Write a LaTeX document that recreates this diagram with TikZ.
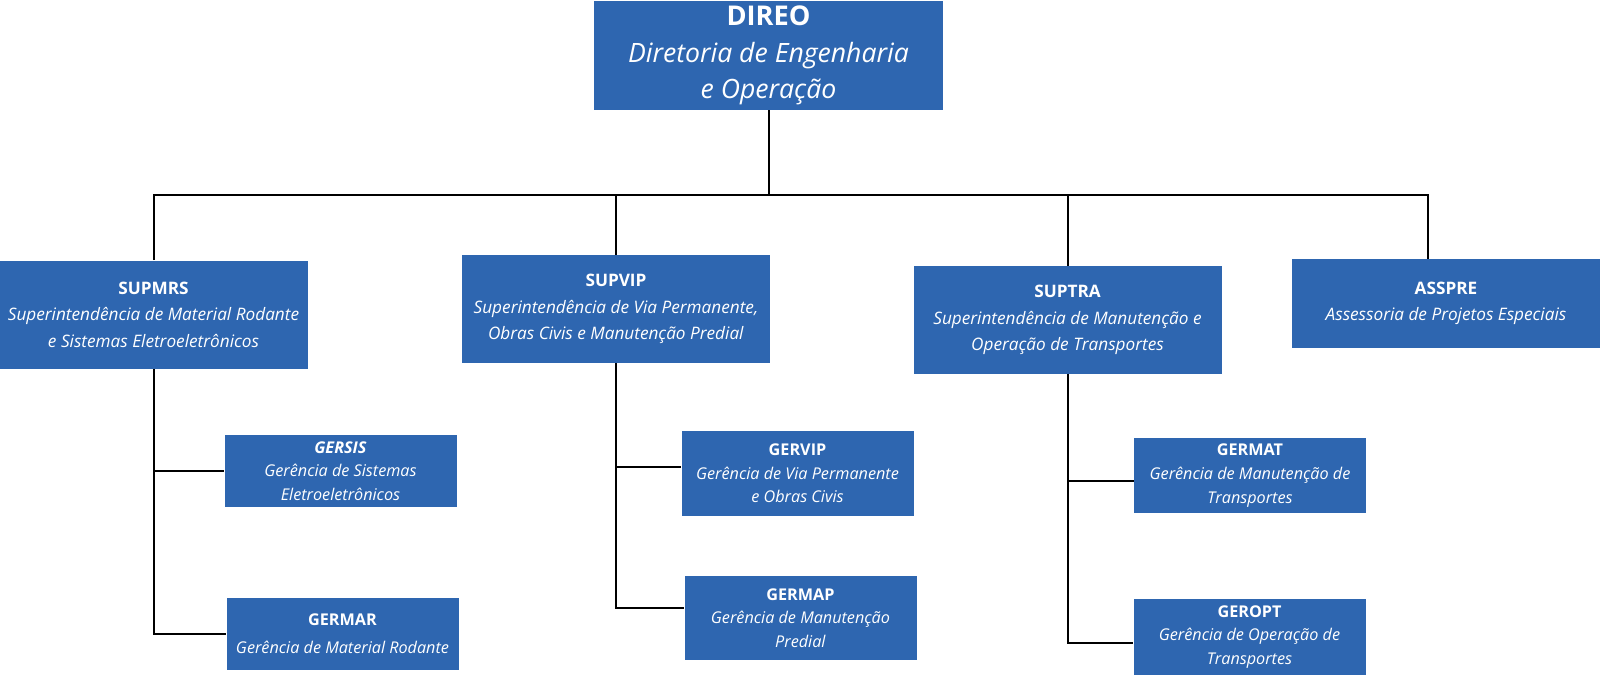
\documentclass[tikz,border=0pt]{standalone}
\usepackage{fontspec}
\setmainfont{Open Sans}
\usepackage{tikz}
\usetikzlibrary{positioning,calc}
\definecolor{orgblue}{RGB}{46,102,176}
\tikzset{
    dirbox/.style={rectangle, fill=orgblue, text=white, align=center, inner sep=0pt, minimum width=174.5pt, minimum height=54.5pt, font=\fontsize{13.3}{18.3}\selectfont},
    supbox/.style={rectangle, fill=orgblue, text=white, align=center, inner sep=0pt, minimum width=154pt, minimum height=54pt, font=\fontsize{8.6}{13.3}\selectfont},
    gerbox/.style={rectangle, fill=orgblue, text=white, align=center, inner sep=0pt, minimum width=116pt, font=\fontsize{8.1}{11.8}\selectfont},
    line/.style={draw, line width=1pt}
}

\begin{document}
\begin{tikzpicture}[x=0.5pt, y=-0.5pt]
    \useasboundingbox (0,0) rectangle (1600,675);

    % Directorate
    \node [dirbox] (direo) at (768.5,55.5) {\textbf{\fontsize{13.6}{18.3}\selectfont DIREO}\\ \textit{Diretoria de Engenharia}\\ \textit{e Operação}};

    % Superintendencies
    \node [supbox] (supmrs) at (153.5,314.5) {\textbf{SUPMRS}\\ \textit{Superintendência de Material Rodante}\\ \textit{e Sistemas Eletroeletrônicos}};
    \node [supbox] (supvip) at (616,309) {\textbf{SUPVIP}\\ \textit{Superintendência de Via Permanente,}\\ \textit{Obras Civis e Manutenção Predial}};
    \node [supbox] (suptra) at (1067.5,320) {\textbf{SUPTRA}\\ \textit{Superintendência de Manutenção e}\\ \textit{Operação de Transportes}};
    \node [supbox, minimum height=44.5pt] (asspre) at (1446,303.5) {\textbf{ASSPRE}\\ \textit{Assessoria de Projetos Especiais}};

    % Managements
    \node [gerbox, minimum height=36pt, text depth=-2pt] (gersis) at (340.5,471) {\textbf{\textit{GERSIS}}\\ \textit{Gerência de Sistemas}\\ \textit{Eletroeletrônicos}};
    \node [gerbox, minimum height=36pt, font=\fontsize{8.1}{14}\selectfont] (germar) at (342.5,634) {\textbf{GERMAR}\\ \textit{Gerência de Material Rodante}};
    \node [gerbox, minimum height=42.5pt] (gervip) at (797.5,473.5) {\textbf{GERVIP}\\ \textit{Gerência de Via Permanente}\\ \textit{e Obras Civis}};
    \node [gerbox, minimum height=42pt] (germap) at (800.5,618) {\textbf{GERMAP}\\ \textit{Gerência de Manutenção}\\ \textit{Predial}};
    \node [gerbox, minimum height=37.5pt] (germat) at (1250,475.5) {\textbf{GERMAT}\\ \textit{Gerência de Manutenção de}\\ \textit{Transportes}};
    \node [gerbox, minimum height=38pt] (geropt) at (1249.5,637) {\textbf{GEROPT}\\ \textit{Gerência de Operação de}\\ \textit{Transportes}};

    % Bus under the directorate
    \coordinate (busL) at (154,195);
    \coordinate (busR) at (1428,195);
    \path [line] (direo.south) -- (direo.south |- busL);
    \path [line] (supmrs.north) -- (supmrs.north |- busL) -- (busR) -- (busR |- asspre.north);
    \path [line] (supvip.north) -- (supvip.north |- busL);
    \path [line] (suptra.north) -- (suptra.north |- busL);

    % Branches to the managements
    \path [line] (supmrs.south) |- (germar.west);
    \path [line] (supmrs.south |- gersis.west) -- (gersis.west);
    \path [line] (supvip.south) |- ([yshift=5pt]germap.west);
    \path [line] ([yshift=3.5pt]supvip.south |- gervip.west) -- ([yshift=3.5pt]gervip.west);
    \path [line] (suptra.south) |- ([yshift=-3pt]geropt.west);
    \path [line] ([yshift=-2.5pt]suptra.south |- germat.west) -- ([yshift=-2.5pt]germat.west);
\end{tikzpicture}
\end{document}
